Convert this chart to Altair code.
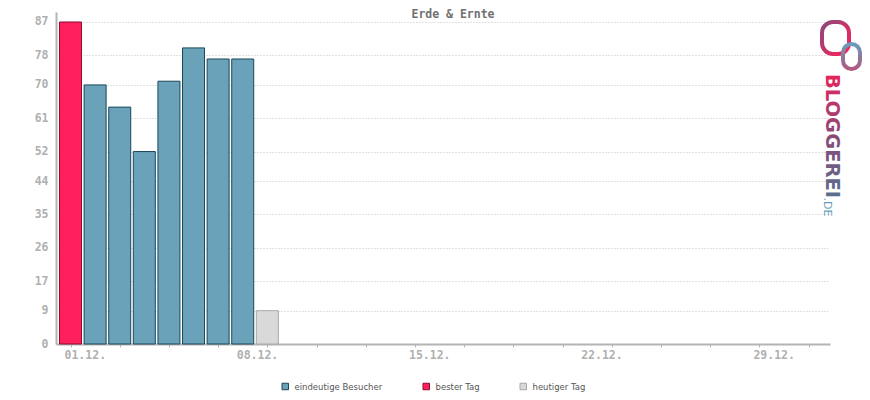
import altair as alt
import pandas as pd

# ---- data ----
days = [1, 2, 3, 4, 5, 6, 7, 8, 9]
visitors = [87, 70, 64, 52, 71, 80, 77, 77, 9]
kinds = ["bester Tag", "eindeutige Besucher", "eindeutige Besucher", "eindeutige Besucher",
         "eindeutige Besucher", "eindeutige Besucher", "eindeutige Besucher",
         "eindeutige Besucher", "heutiger Tag"]
legend_order = ["eindeutige Besucher", "bester Tag", "heutiger Tag"]
fill_colors = ["#6aa2ba", "#ff1f5a", "#d9d9d9"]
stroke_colors = ["#1b4759", "#8c0a33", "#a8a8a8"]
y_ticks = [0, 9, 17, 26, 35, 44, 52, 61, 70, 78, 87]
x_ticks = list(range(1, 32))
x_label_days = [1, 8, 15, 22, 29]
x_label_texts = ["01.12.", "08.12.", "15.12.", "22.12.", "29.12."]
title_text = "Erde & Ernte"

df = pd.DataFrame({"tag": days, "besucher": visitors, "typ": kinds})
lab_df = pd.DataFrame({"tag": x_label_days, "txt": x_label_texts})

W, H = 774, 332
x_scale = alt.Scale(domain=[0.41, 31.87], nice=False, zero=False, padding=0)

legend = alt.Legend(title=None, orient="none", direction="horizontal",
                    legendX=225, legendY=370, symbolType="square",
                    symbolSize=42, symbolStrokeWidth=1, columnPadding=38,
                    labelFont="DejaVu Sans", labelFontSize=8.5,
                    labelColor="#555555", labelOffset=5)

bars = alt.Chart(df).mark_bar(size=22, strokeWidth=1, strokeOpacity=1, opacity=1).encode(
    x=alt.X("tag:Q", scale=x_scale,
            axis=alt.Axis(values=x_ticks, labels=False, title=None, grid=False,
                          domainColor="#b4b4b4", domainWidth=2, tickColor="#b4b4b4",
                          tickSize=3, tickWidth=1)),
    y=alt.Y("besucher:Q", scale=alt.Scale(domain=[0, 89.7], nice=False, padding=0),
            axis=alt.Axis(values=y_ticks, title=None, grid=True, gridColor="#c4c4c4",
                          gridDash=[1, 2], gridWidth=1, domainColor="#b4b4b4", domainWidth=2,
                          tickSize=0, labelPadding=8, labelFont="DejaVu Sans Mono",
                          labelFontWeight="bold", labelFontSize=11.5, labelColor="#b0b0b0")),
    fill=alt.Fill("typ:N", scale=alt.Scale(domain=legend_order, range=fill_colors),
                  legend=legend),
    stroke=alt.Stroke("typ:N", scale=alt.Scale(domain=legend_order, range=stroke_colors),
                      legend=legend),
)

x_labels = alt.Chart(lab_df).mark_text(
    font="DejaVu Sans Mono", fontWeight="bold", fontSize=11.5, color="#b0b0b0",
    align="left", baseline="middle", dx=-6
).encode(x=alt.X("tag:Q", scale=x_scale), y=alt.value(H + 12), text="txt:N")

one = pd.DataFrame({"k": [0]})

logo_grad = alt.LinearGradient(gradient="linear", x1=0, y1=0, x2=1, y2=0,
                               stops=[alt.GradientStop(offset=0, color="#e8245c"),
                                      alt.GradientStop(offset=0.5, color="#8a4a78"),
                                      alt.GradientStop(offset=1, color="#56708f")])
logo_text = alt.Chart(one).mark_text(
    text="BLOGGEREI", angle=90, font="DejaVu Sans", fontWeight="bold", fontSize=19.5,
    align="center", baseline="middle", fill=logo_grad
).encode(x=alt.value(776), y=alt.value(124))

logo_de = alt.Chart(one).mark_text(
    text=".DE", angle=90, font="DejaVu Sans", fontSize=11,
    align="center", baseline="middle", color="#6a9cbc"
).encode(x=alt.value(771), y=alt.value(195))

ring_a = alt.Chart(one).mark_rect(
    filled=False, cornerRadius=11, strokeWidth=4,
    stroke=alt.LinearGradient(gradient="linear", x1=0, y1=0, x2=1, y2=1,
                              stops=[alt.GradientStop(offset=0, color="#8a4a7a"),
                                     alt.GradientStop(offset=1, color="#ff1f5a")])
).encode(x=alt.value(766), x2=alt.value(793), y=alt.value(10), y2=alt.value(42))

ring_b = alt.Chart(one).mark_rect(
    filled=False, cornerRadius=9, strokeWidth=4,
    stroke=alt.LinearGradient(gradient="linear", x1=0, y1=0, x2=0, y2=1,
                              stops=[alt.GradientStop(offset=0, color="#6a9cbc"),
                                     alt.GradientStop(offset=1, color="#b05a80")])
).encode(x=alt.value(787), x2=alt.value(804), y=alt.value(32), y2=alt.value(57))

chart = alt.layer(bars, x_labels, ring_a, ring_b, logo_text, logo_de).properties(
    width=W, height=H,
    title=alt.TitleParams(text=title_text, font="DejaVu Sans Mono", fontWeight="bold",
                          fontSize=11.5, color="#707070", anchor="middle", offset=-8, dx=10),
    autosize=alt.AutoSizeParams(type="none"),
    padding={"left": 48, "top": 4, "right": 32, "bottom": 48},
    background="white",
).configure_view(stroke=None)

chart.save("out.html", embed_options={"renderer": "svg", "actions": False})
